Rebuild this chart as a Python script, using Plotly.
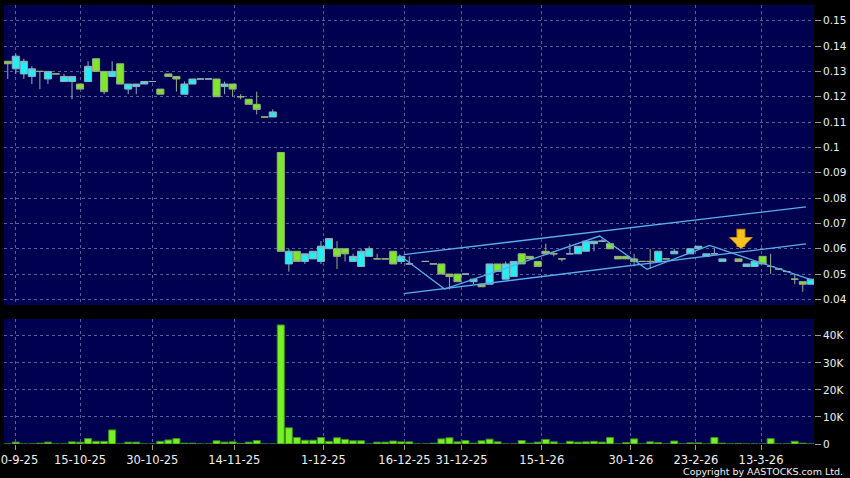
import plotly.graph_objects as go

NAVY = '#000050'
CYAN = '#22eef6'
GREEN = '#7ce82c'
VOL_GREEN = '#76f02a'
GRID = '#56618f'
TREND = '#5aaeea'
GOLD = '#f6c21c'

# one slot per trading day, None = no candle drawn
opens = [.134, .131, .129, .128, .130, .127, .129, .126, .126, .125,
         .126, .135, .130, .128, .133, .123, .124, .125, .126, .123,
         .129, .128, .121, .125, .127, .127, .127, .124, .125, .120,
         .119, .117, .112, .112, .098, .054, .059, .055, .056, .055,
         .060, .060, .060, .055, .053, .057, .056, .056, .059, .055,
         .054, None, .055, .054, .054, .050, .050, .050, .047, .046,
         .046, .054, .048, .049, .058, .057, .055, .059, .058, .056,
         .058, .058, .059, .062, .063, .062, .057, .057, .056, .055,
         .055, .055, .056, .058, None, .058, .060, .057, .058, .055,
         None, .056, .053, .053, .057, .053, .052, .051, .048, .047,
         .046]
highs = [.134, .137, .135, .132, .130, .130, .129, .129, .128, .125,
         .134, .135, .130, .134, .133, .125, .125, .126, .126, .123,
         .129, .128, .126, .127, .127, .127, .127, .126, .125, .121,
         .119, .122, .112, .115, .098, .060, .059, .058, .059, .063,
         .064, .063, .060, .058, .060, .061, .058, .056, .059, .057,
         .057, None, .055, .054, .054, .050, .050, .050, .048, .046,
         .054, .054, .055, .055, .058, .057, .055, .062, .059, .056,
         .062, .061, .063, .063, .064, .062, .057, .057, .058, .055,
         .060, .059, .056, .060, None, .060, .061, .058, .060, .056,
         None, .056, .054, .055, .057, .058, .052, .051, .050, .047,
         .048]
lows = [.127, .129, .127, .125, .123, .125, .129, .126, .119, .123,
        .126, .130, .121, .128, .125, .121, .121, .125, .126, .121,
        .128, .122, .121, .125, .127, .127, .120, .121, .120, .119,
        .117, .113, .112, .112, .059, .051, .055, .054, .056, .054,
        .060, .052, .055, .055, .053, .057, .056, .056, .054, .054,
        .054, None, .055, .054, .050, .044, .047, .050, .046, .045,
        .046, .051, .048, .049, .054, .056, .053, .058, .057, .055,
        .058, .058, .059, .059, .063, .060, .056, .056, .053, .055,
        .052, .055, .056, .058, None, .058, .060, .057, .058, .055,
        None, .055, .053, .053, .054, .050, .052, .051, .046, .043,
        .046]
closes = [.133, .136, .134, .131, .130, .130, .129, .128, .128, .123,
          .132, .130, .122, .130, .125, .125, .125, .126, .126, .121,
          .128, .127, .125, .127, .127, .127, .120, .125, .123, .120,
          .117, .115, .112, .114, .059, .059, .055, .058, .059, .061,
          .064, .057, .058, .057, .059, .060, .056, .056, .054, .057,
          .054, None, .055, .054, .050, .049, .047, .050, .048, .045,
          .054, .051, .054, .055, .054, .056, .053, .058, .058, .056,
          .058, .061, .063, .063, .063, .060, .056, .056, .055, .055,
          .055, .059, .056, .059, None, .060, .061, .058, .058, .056,
          None, .055, .054, .055, .054, .053, .052, .051, .048, .046,
          .048]
volumes = [0, 700, 0, 0, 300, 700, 0, 0, 800, 700,
           2000, 1000, 1000, 5200, 0, 700, 700, 0, 0, 1000,
           1500, 2000, 300, 300, 0, 0, 1200, 700, 800, 200,
           700, 1300, 0, 0, 44000, 6000, 2400, 1400, 1400, 2400,
           1000, 2300, 1700, 1200, 1200, 0, 700, 700, 1100, 800,
           800, 0, 0, 300, 1900, 2300, 800, 1300, 300, 1200,
           1800, 800, 0, 0, 1300, 300, 700, 1700, 800, 0,
           1000, 700, 800, 1000, 700, 2400, 0, 500, 1900, 0,
           800, 500, 0, 1100, 0, 400, 400, 0, 2400, 300,
           0, 200, 0, 0, 0, 2000, 0, 0, 1000, 300,
           0]

tick_pos = [1, 9, 18, 28.2, 39.3, 49.4, 56.5, 66.5, 77.6, 85.7, 93.8]
tick_labels = ['30-9-25', '15-10-25', '30-10-25', '14-11-25', '1-12-25', '16-12-25',
               '31-12-25', '15-1-26', '30-1-26', '23-2-26', '13-3-26']
price_ticks = [0.04, 0.05, 0.06, 0.07, 0.08, 0.09, 0.10, 0.11, 0.12, 0.13, 0.14, 0.15]
vol_ticks = [0, 10000, 20000, 30000, 40000]
vol_labels = ['0', '10K', '20K', '30K', '40K']

# hand-drawn channel and zigzag (day index, price)
upper_x = [49.3, 99.4]
upper_y = [0.0577, 0.0765]
lower_x = [49.3, 99.4]
lower_y = [0.0423, 0.0619]
zig_x = [48.7, 54.4, 73.7, 79.6, 87.4, 100.1]
zig_y = [0.0576, 0.0441, 0.0650, 0.0519, 0.0613, 0.0477]
arrow_x, arrow_y = 91.3, 0.0598

days = [i for i, o in enumerate(opens) if o is not None]
XR = [-0.47, 100.4]

fig = go.Figure()
fig.add_trace(go.Candlestick(
    x=days, open=[opens[i] for i in days], high=[highs[i] for i in days],
    low=[lows[i] for i in days], close=[closes[i] for i in days],
    increasing=dict(fillcolor=CYAN, line=dict(color='#8db4be', width=1)),
    decreasing=dict(fillcolor=GREEN, line=dict(color='#98b07e', width=1)),
    whiskerwidth=0, xaxis='x', yaxis='y', showlegend=False,
))
for xs, ys in [(upper_x, upper_y), (lower_x, lower_y), (zig_x, zig_y)]:
    fig.add_trace(go.Scatter(x=xs, y=ys, mode='lines', line=dict(color=TREND, width=1.3),
                             xaxis='x', yaxis='y', showlegend=False, hoverinfo='skip'))
fig.add_trace(go.Bar(
    x=list(range(len(volumes))), y=volumes,
    marker=dict(color=VOL_GREEN, line=dict(color='#3e8c16', width=1)),
    xaxis='x2', yaxis='y2', showlegend=False,
))

# yellow marker arrow: darker rim underneath, gold body on top
fig.add_annotation(x=arrow_x, y=arrow_y, xref='x', yref='y', ax=0, ay=-22, text='',
                   showarrow=True, arrowhead=1, arrowsize=0.45, arrowwidth=9, arrowcolor='#c88a10')
fig.add_annotation(x=arrow_x, y=arrow_y + 0.0003, xref='x', yref='y', ax=0, ay=-20, text='',
                   showarrow=True, arrowhead=1, arrowsize=0.5, arrowwidth=7, arrowcolor=GOLD)
fig.add_annotation(x=845 / 850, y=7 / 478, xref='paper', yref='paper', xanchor='right', yanchor='middle',
                   text='Copyright by AASTOCKS.com Ltd.', showarrow=False,
                   font=dict(size=9.5, color='#f2f2f2'))

grid = dict(showgrid=True, gridcolor=GRID, gridwidth=1, griddash='3px,3px', zeroline=False,
            automargin=False)
xdom = [4 / 850, 814 / 850]
fig.update_layout(
    width=850, height=478, margin=dict(l=0, r=0, t=0, b=0, autoexpand=False),
    paper_bgcolor='black', plot_bgcolor=NAVY, showlegend=False,
    boxgap=0.12, boxgroupgap=0, bargap=0.12,
    font=dict(family='DejaVu Sans', color='#eeeeee'),
    xaxis=dict(domain=xdom, range=XR, anchor='y', rangeslider=dict(visible=False),
               tickvals=tick_pos, showticklabels=False, ticks='', **grid),
    yaxis=dict(domain=[173 / 478, 473 / 478], range=[0.0378, 0.1562], anchor='x', side='right',
               tickvals=price_ticks, ticktext=[f'{v:g}' for v in price_ticks],
               ticks='outside', ticklen=6, tickcolor='#9a9a9a',
               tickfont=dict(size=10.5, color='#f0f0f0'), **grid),
    xaxis2=dict(domain=xdom, range=XR, anchor='y2', tickvals=tick_pos, ticktext=tick_labels,
                ticks='outside', ticklen=5, tickcolor='#9a9a9a', ticklabeloverflow='allow',
                tickfont=dict(size=11.5, color='#f0f0f0'), **grid),
    yaxis2=dict(domain=[34 / 478, 159 / 478], range=[0, 46200], anchor='x2', side='right',
                tickvals=vol_ticks, ticktext=vol_labels,
                ticks='outside', ticklen=6, tickcolor='#9a9a9a',
                tickfont=dict(size=10.5, color='#f0f0f0'), **grid),
)

# the page body has a default margin; drop it so the chart fills the window
fig.write_html('out.html', config={'displayModeBar': False},
               post_script="document.body.style.margin='0';")
